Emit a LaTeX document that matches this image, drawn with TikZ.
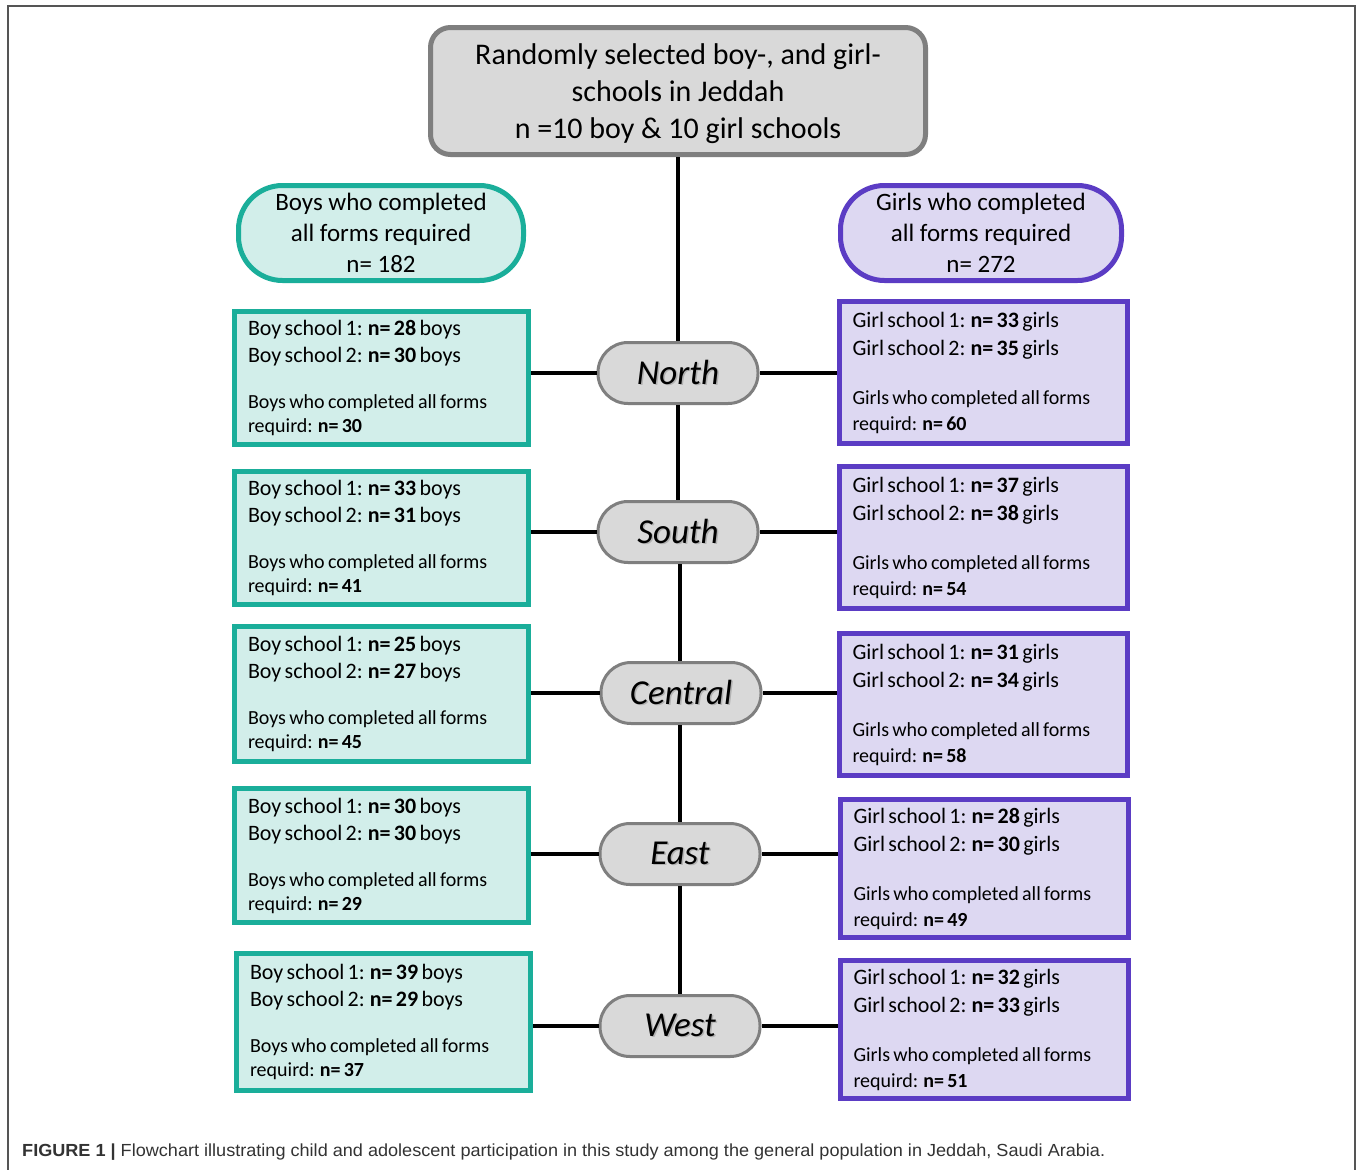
\documentclass[tikz,border=0pt]{standalone}
\usepackage{fontspec}
\usepackage{graphicx}
\setmainfont{Carlito}
\newfontfamily\capfont{Liberation Sans}
\setlength{\parindent}{0pt}
\definecolor{grayfill}{HTML}{D9D9D9}
\definecolor{graybd}{HTML}{7F7F7F}
\definecolor{tealbd}{HTML}{1AAE9A}
\definecolor{tealfill}{HTML}{D2EEEA}
\definecolor{purpbd}{HTML}{5B3CC4}
\definecolor{purpfill}{HTML}{DDD8F2}
\definecolor{framec}{HTML}{555555}
\newcommand{\boytext}[3]{\fontsize{22}{27}\selectfont Boy school 1: \textbf{n= #1} boys\par Boy school 2: \textbf{n= #2} boys\par\vskip22pt\fontsize{20}{24}\selectfont Boys who completed all forms\newline requird: \textbf{n= #3}\par}
\newcommand{\girltext}[3]{\fontsize{22}{28}\selectfont Girl school 1: \textbf{n= #1} girls\par Girl school 2: \textbf{n= #2} girls\par\vskip23pt\fontsize{20}{26}\selectfont Girls who completed all forms\newline requird: \textbf{n= #3}\par}
\newcommand{\shadowed}[1]{\makebox[0pt][l]{\hspace{1.5pt}\raisebox{-1.5pt}{\color{black!30}#1}}#1}
\tikzset{
  topbox/.style={draw=graybd, fill=grayfill, line width=5pt, rounded corners=20pt,
    minimum width=495pt, minimum height=127pt, inner sep=2pt, align=center,
    font=\fontsize{30}{37}\selectfont},
  boyhead/.style={draw=tealbd, fill=tealfill, line width=5pt, rounded corners=44pt,
    minimum width=285pt, minimum height=95pt, inner sep=2pt, align=center,
    font=\fontsize{25}{31}\selectfont},
  girlhead/.style={boyhead, draw=purpbd, fill=purpfill, minimum width=281pt},
  boybox/.style={draw=tealbd, fill=tealfill, line width=5pt, text width=267pt,
    inner xsep=13.5pt, inner ysep=2pt, align=left, minimum height=133pt},
  girlbox/.style={draw=purpbd, fill=purpfill, line width=5pt, text width=262pt,
    inner xsep=13pt, inner ysep=2pt, align=left, minimum height=142pt},
  region/.style={draw=graybd, fill=grayfill, line width=3pt, rounded corners=30pt,
    minimum width=160pt, minimum height=61pt, inner sep=2pt,
    font=\fontsize{35}{40}\selectfont\itshape},
  conn/.style={line width=3.6pt, black}
}
\begin{document}
\begin{tikzpicture}[x=1pt, y=-1pt]
\useasboundingbox (0,0) rectangle (1358,1170);
\fill[white] (0,0) rectangle (1358,1170);
\draw[line width=1.3pt, framec] (8,1170) -- (8,6) -- (1355,6) -- (1355,1170);

\node[region] (north) at (678,373) {\shadowed{North}};
\node[region] (south) at (678,532) {\shadowed{South}};
\node[region] (central) at (681,693) {\shadowed{Central}};
\node[region] (east) at (680,854) {\shadowed{East}};
\node[region] (west) at (680,1026) {\shadowed{West}};

\node[topbox] (top) at (678,91) {\raisebox{-3pt}[\height][\depth]{\parbox{480pt}{\centering Randomly selected boy-, and girl-\\schools in Jeddah\\n =10 boy \& 10 girl schools}}};
\node[boyhead] (boys) at (381,233) {Boys who completed\\all forms required\\n= 182};
\node[girlhead] (girls) at (981,233) {Girls who completed\\all forms required\\n= 272};

\node[boybox] (b1) at (381.5,378) {\boytext{28}{30}{30}};
\node[boybox] (b2) at (381.5,538) {\boytext{33}{31}{41}};
\node[boybox, minimum height=135pt] (b3) at (381.5,694) {\boytext{25}{27}{45}};
\node[boybox, minimum height=134pt] (b4) at (381.5,855.5) {\boytext{30}{30}{29}};
\node[boybox, minimum height=137pt] (b5) at (383.5,1022) {\boytext{39}{29}{37}};

\node[girlbox] (g1) at (983.5,372.5) {\girltext{33}{35}{60}};
\node[girlbox] (g2) at (983.5,537.5) {\girltext{37}{38}{54}};
\node[girlbox] (g3) at (983.5,704.5) {\girltext{31}{34}{58}};
\node[girlbox, minimum height=138pt] (g4) at (984.5,868.5) {\girltext{28}{30}{49}};
\node[girlbox, minimum height=138pt] (g5) at (984.5,1029.5) {\girltext{32}{33}{51}};

\draw[conn] (top.south) -- (top.south |- north.north);
\draw[conn] (north.south) -- (north.south |- south.north);
\draw[conn] ([xshift=2pt]south.south) -- ([xshift=2pt]south.south |- central.north);
\draw[conn] ([xshift=-1pt]central.south) -- ([xshift=-1pt]central.south |- east.north);
\draw[conn] (east.south) -- (east.south |- west.north);

\foreach \r/\b/\g in {north/b1/g1, south/b2/g2, central/b3/g3, east/b4/g4, west/b5/g5}{
  \draw[conn] (\r.west) -- (\b.east |- \r.west);
  \draw[conn] (\r.east) -- (\g.west |- \r.east);
}

\node[anchor=west, inner sep=0pt, font=\capfont, text=black!80] (cap) at (22,1152)
  {\resizebox{1083pt}{\height}{\fontsize{17.5}{20}\selectfont\textbf{FIGURE 1 |} Flowchart illustrating child and adolescent participation in this study among the general population in Jeddah, Saudi Arabia.}};
\end{tikzpicture}
\end{document}
